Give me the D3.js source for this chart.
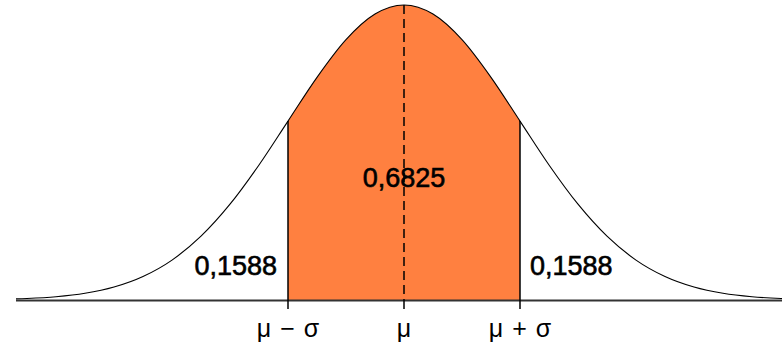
<!DOCTYPE html>
<html>
<head>
<meta charset="utf-8">
<script src="https://cdn.jsdelivr.net/npm/d3@7"></script>
<style>
  html, body { margin: 0; padding: 0; background: #fff; }
  svg { display: block; }
  text { font-family: "Liberation Sans", Arial, sans-serif; fill: #000; }
</style>
</head>
<body>
<div id="chart"></div>
<script>
// --- DATI ---
// curva normale: z (in unità di sigma) e altezza relativa al picco
const zValues = [-3.5, -3.25, -3, -2.75, -2.5, -2.25, -2, -1.75, -1.5, -1.25, -1, -0.75, -0.5, -0.25,
                 0, 0.25, 0.5, 0.75, 1, 1.25, 1.5, 1.75, 2, 2.25, 2.5, 2.75, 3, 3.25, 3.5];
const heights = [0.0022, 0.0051, 0.0111, 0.0228, 0.0439, 0.0796, 0.1353, 0.2163, 0.3247, 0.4578, 0.6065, 0.7548, 0.8825, 0.9692,
                 1, 0.9692, 0.8825, 0.7548, 0.6065, 0.4578, 0.3247, 0.2163, 0.1353, 0.0796, 0.0439, 0.0228, 0.0111, 0.0051, 0.0022];

const tickZ = [-1, 0, 1];
const tickLabels = ["μ − σ", "μ", "μ + σ"];

const areaLabels = ["0,1588", "0,6825", "0,1588"];

// --- SETUP ---
const width = 782, height = 345;
const svg = d3.select("#chart").append("svg")
    .attr("width", width)
    .attr("height", height);

const x = d3.scaleLinear().domain([-1, 1]).range([288, 520]);
const y = d3.scaleLinear().domain([0, 1]).range([300, 5]);

const pts = zValues.map((z, i) => ({ z: z, h: heights[i] }));
const inner = pts.filter(d => d.z >= -1 && d.z <= 1);

svg.append("clipPath").attr("id", "clip")
  .append("rect").attr("x", 16).attr("y", 0).attr("width", width - 16).attr("height", height);

const g = svg.append("g").attr("clip-path", "url(#clip)");

// area arancione tra mu-sigma e mu+sigma
const area = d3.area()
    .x(d => x(d.z)).y0(y(0)).y1(d => y(d.h))
    .curve(d3.curveMonotoneX);
g.append("path").datum(inner)
    .attr("d", area)
    .attr("fill", "#ff8040");

// curva
const line = d3.line().x(d => x(d.z)).y(d => y(d.h)).curve(d3.curveMonotoneX);
g.append("path").datum(pts)
    .attr("d", line)
    .attr("fill", "none")
    .attr("stroke", "#000")
    .attr("stroke-width", 1.1);

// asse orizzontale
svg.append("line")
    .attr("x1", 16).attr("x2", width)
    .attr("y1", y(0) + 0.5).attr("y2", y(0) + 0.5)
    .attr("stroke", "#333").attr("stroke-width", 2);

// linee verticali a mu-sigma, mu, mu+sigma
tickZ.forEach(z => {
    const h = heights[zValues.indexOf(z)];
    svg.append("line")
        .attr("x1", x(z)).attr("x2", x(z))
        .attr("y1", y(h)).attr("y2", y(0))
        .attr("stroke", "#000").attr("stroke-width", 1.5)
        .attr("stroke-dasharray", z === 0 ? "9,5" : null);
    // tacca sotto l'asse
    svg.append("line")
        .attr("x1", x(z)).attr("x2", x(z))
        .attr("y1", y(0)).attr("y2", y(0) + 9)
        .attr("stroke", "#000").attr("stroke-width", 1.5);
});

// etichette tick
svg.selectAll("text.tick")
    .data(tickLabels)
    .join("text")
    .attr("class", "tick")
    .attr("x", (d, i) => x(tickZ[i]))
    .attr("y", 337)
    .attr("text-anchor", "middle")
    .style("font-size", "25px")
    .style("word-spacing", "2px")
    .text(d => d);

// etichette aree
const labelPos = [
    { x: x(-1) - 11, y: 275, anchor: "end" },
    { x: x(0), y: 187, anchor: "middle" },
    { x: x(1) + 10, y: 275, anchor: "start" }
];
svg.selectAll("text.area")
    .data(areaLabels)
    .join("text")
    .attr("class", "area")
    .attr("x", (d, i) => labelPos[i].x)
    .attr("y", (d, i) => labelPos[i].y)
    .attr("text-anchor", (d, i) => labelPos[i].anchor)
    .attr("stroke", "#000")
    .attr("stroke-width", 0.6)
    .style("font-size", "27px")
    .text(d => d);
</script>
</body>
</html>
